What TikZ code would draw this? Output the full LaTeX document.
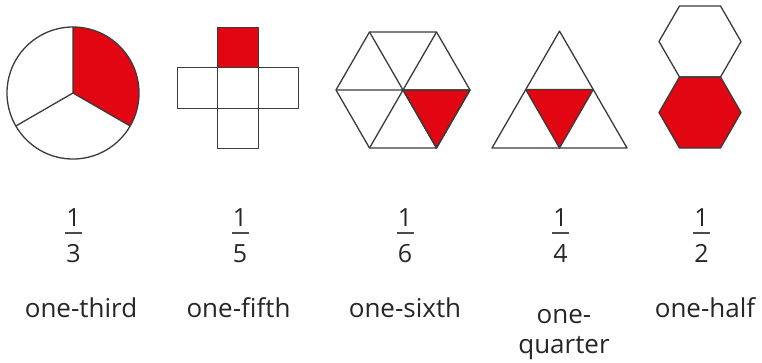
\documentclass[tikz,border=0pt]{standalone}
\usepackage{fontspec}
\setmainfont{Open Sans}
\usepackage{xcolor}
\usepackage{tikz}
\usetikzlibrary{positioning,calc}
\definecolor{fracRed}{HTML}{E20613}
\definecolor{fracLine}{HTML}{3A3A3A}
\tikzset{
  part/.style={draw=fracLine,line width=1.3pt,line join=round},
  redpart/.style={part,fill=fracRed},
  digit/.style={inner sep=0pt,font=\fontsize{25}{30}\selectfont,text=black!85},
  fracbar/.style={draw=black!70,line width=1.4pt},
  namelabel/.style={inner sep=0pt,anchor=base,align=center,
    font=\fontsize{26}{30}\selectfont,text=black!85}
}

\begin{document}
\begin{tikzpicture}[x=1pt,y=1pt]
      \useasboundingbox (0,0) rectangle (762,362);

      % one-third: circle in three parts
      \coordinate (cthird) at (73,269);
      \fill[fracRed] (cthird) -- ++(90:66) arc[start angle=90,end angle=-30,radius=66] -- cycle;
      \draw[part] (cthird) circle[radius=66];
      \draw[part] (cthird) -- ++(90:66) (cthird) -- ++(210:66) (cthird) -- ++(330:66);

      % one-fifth: cross of five squares
      \draw[redpart] (217.75,294.25) rectangle (258.25,334.75);
      \draw[part] (177.25,253.75) rectangle (217.75,294.25);
      \draw[part] (217.75,253.75) rectangle (258.25,294.25);
      \draw[part] (258.25,253.75) rectangle (298.75,294.25);
      \draw[part] (217.75,213.25) rectangle (258.25,253.75);

      % one-sixth: hexagon of six triangles
      \coordinate (csixth) at (403,272);
      \draw[redpart] (csixth) -- ++(0:67) -- ($(csixth)+(300:67)$) -- cycle;
      \draw[part] ($(csixth)+(0:67)$) -- ($(csixth)+(60:67)$) -- ($(csixth)+(120:67)$)
        -- ($(csixth)+(180:67)$) -- ($(csixth)+(240:67)$) -- ($(csixth)+(300:67)$) -- cycle;
      \draw[part] ($(csixth)+(0:67)$) -- ($(csixth)+(180:67)$)
        ($(csixth)+(60:67)$) -- ($(csixth)+(240:67)$)
        ($(csixth)+(120:67)$) -- ($(csixth)+(300:67)$);

      % one-quarter: triangle of four triangles
      \coordinate (qtop) at (559.5,330.9);
      \coordinate (qleft) at (492,214);
      \coordinate (qright) at (627,214);
      \draw[redpart] ($(qtop)!0.5!(qleft)$) -- ($(qtop)!0.5!(qright)$) -- ($(qleft)!0.5!(qright)$) -- cycle;
      \draw[part] (qtop) -- (qleft) -- (qright) -- cycle;

      % one-half: two hexagons
      \coordinate (htop) at (700,320.5);
      \coordinate (hbot) at (700,249.5);
      \draw[redpart] ($(hbot)+(0:41)$) -- ($(hbot)+(60:41)$) -- ($(hbot)+(120:41)$)
        -- ($(hbot)+(180:41)$) -- ($(hbot)+(240:41)$) -- ($(hbot)+(300:41)$) -- cycle;
      \draw[part] ($(htop)+(0:41)$) -- ($(htop)+(60:41)$) -- ($(htop)+(120:41)$)
        -- ($(htop)+(180:41)$) -- ($(htop)+(240:41)$) -- ($(htop)+(300:41)$) -- cycle;

      % fractions
      \node[digit] (numthird) at (73.5,144) {1};
      \node[digit] (denthird) at (73.5,108.5) {3};
      \draw[fracbar] (65,129) -- (82,129);
      \node[digit] (numfifth) at (240,144) {1};
      \node[digit] (denfifth) at (240,108.5) {5};
      \draw[fracbar] (231.5,129) -- (248.5,129);
      \node[digit] (numsixth) at (405,144) {1};
      \node[digit] (densixth) at (405,108.5) {6};
      \draw[fracbar] (396.5,129) -- (413.5,129);
      \node[digit] (numquarter) at (560.5,144) {1};
      \node[digit] (denquarter) at (560.5,108.5) {4};
      \draw[fracbar] (552,129) -- (569,129);
      \node[digit] (numhalf) at (701.5,144) {1};
      \node[digit] (denhalf) at (701.5,108.5) {2};
      \draw[fracbar] (693,129) -- (710,129);

      % names (base of a two-line node is its last line)
      \node[namelabel] (lthird) at (81,45) {one-third};
      \node[namelabel] (lfifth) at (238.5,45) {one-fifth};
      \node[namelabel] (lsixth) at (405,45) {one-sixth};
      \node[namelabel] (lquarter) at (564,9) {one-\\quarter};
      \node[namelabel] (lhalf) at (705,45) {one-half};
    \end{tikzpicture}
\end{document}
